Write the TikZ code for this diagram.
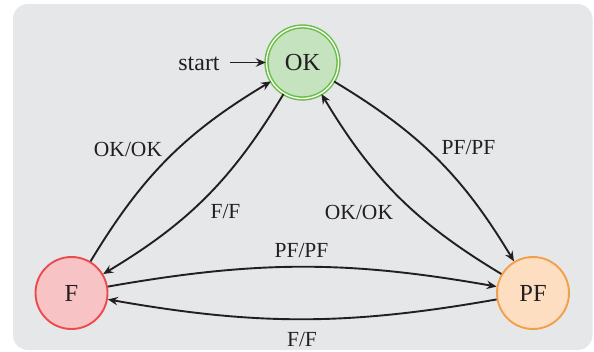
\documentclass[tikz,border=0pt]{standalone}
\usepackage{fontspec}
\setmainfont{Liberation Serif}
\usetikzlibrary{arrows.meta}

\definecolor{panel}{HTML}{E6E7E9}
\definecolor{ink}{HTML}{231F20}
\definecolor{okfill}{HTML}{C4E3BE}
\definecolor{okline}{HTML}{6ABD45}
\definecolor{ffill}{HTML}{F8C3C5}
\definecolor{fline}{HTML}{EC4A4C}
\definecolor{pffill}{HTML}{FDDEC1}
\definecolor{pfline}{HTML}{F59E48}

\tikzset{
  state/.style={circle, minimum size=72pt, inner sep=0pt, line width=1.9pt,
    text=ink, font=\fontsize{24.5}{29}\selectfont},
  accepting/.style={double=white, double distance=1.3pt, line width=1.5pt},
  edge/.style={draw=ink, line width=1.9pt,
    -{Stealth[length=10pt, width=8.5pt, inset=3.5pt]}},
  lbl/.style={text=ink, inner sep=0pt, font=\fontsize{21.5}{25}\selectfont},
}

\begin{document}
\begin{tikzpicture}[x=1pt, y=-1pt]
  % panel
  \useasboundingbox (0,0) rectangle (594,351);
  \fill[panel, rounded corners=15pt] (13,4) rectangle (592.5,350);

  % states
  \node[state, accepting, draw=okline, fill=okfill] (OK) at (302.5,62.5) {OK};
  \node[state, draw=fline, fill=ffill] (F) at (71.5,293) {F};
  \node[state, draw=pfline, fill=pffill] (PF) at (533,293) {PF};

  % initial marker
  \node[text=ink, font=\fontsize{24}{28}\selectfont, inner sep=0pt] (start) at (199,64) {start};
  \coordinate (s0) at (230,62.5);
  \draw[edge] (s0) -- (OK);

  % transitions
  \draw[edge] (F) to[bend left=14] (OK);
  \draw[edge] (OK) to[bend left=14] (F);
  \draw[edge] (OK) to[bend left=14] (PF);
  \draw[edge] (PF) to[bend left=14] (OK);
  \draw[edge] (F) to[bend left=10] (PF);
  \draw[edge] (PF) to[bend left=10] (F);

  % transition labels
  \node[lbl] (l1) at (128,149.5) {OK/OK};
  \node[lbl] (l2) at (225.5,212) {F/F};
  \node[lbl] (l3) at (468.5,148) {PF/PF};
  \node[lbl] (l4) at (359,212) {OK/OK};
  \node[lbl] (l5) at (301.5,250.5) {PF/PF};
  \node[lbl] (l6) at (302,339.5) {F/F};
\end{tikzpicture}
\end{document}
